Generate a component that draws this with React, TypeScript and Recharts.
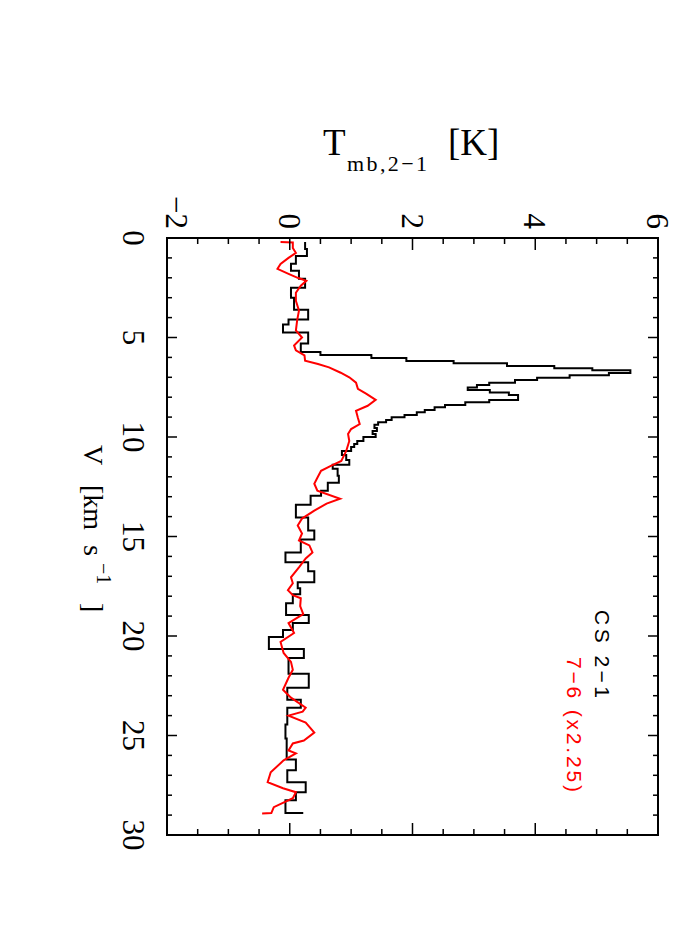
import React from "react";
import { LineChart, Line, XAxis, YAxis, ReferenceArea } from "recharts";

// velocity axis ticks (km/s) and temperature axis ticks (K)
const vTicks = [0, 1, 2, 3, 4, 5, 6, 7, 8, 9, 10, 11, 12, 13, 14, 15, 16, 17, 18, 19, 20, 21, 22, 23, 24, 25, 26, 27, 28, 29, 30];
const tTicks = [-2, -1.5, -1, -0.5, 0, 0.5, 1, 1.5, 2, 2.5, 3, 3.5, 4, 4.5, 5, 5.5, 6];

// CS 2-1 (black histogram)
const cs21V = [0.2, 0.55, 0.9, 1.3, 1.65, 2.05, 2.5, 3.0, 3.6, 4.1, 4.35, 4.75, 5.3, 5.73, 5.88, 6.03, 6.18, 6.3, 6.43, 6.55, 6.65, 6.78, 6.9, 7.02, 7.14, 7.27, 7.39, 7.51, 7.64, 7.76, 7.89, 8.14, 8.26, 8.39, 8.51, 8.64, 8.76, 8.89, 9.01, 9.14, 9.26, 9.39, 9.55, 9.7, 9.85, 10.0, 10.2, 10.35, 10.5, 10.7, 10.9, 11.15, 11.4, 11.6, 11.95, 12.3, 12.7, 12.95, 13.4, 14.05, 14.7, 15.15, 15.8, 16.3, 16.75, 17.3, 17.6, 17.9, 18.35, 18.95, 19.35, 19.7, 20.05, 20.65, 21.1, 21.9, 22.6, 23.2, 23.6, 24.45, 25.15, 26.2, 26.75, 27.35, 27.85, 28.25, 28.9];
const cs21T = [0.25, 0.28, 0.1, 0.02, 0.15, 0.25, 0.02, 0.07, 0.3, -0.02, -0.11, 0.3, 0.18, 0.5, 1.33, 1.9, 2.67, 3.54, 4.31, 4.93, 5.55, 5.2, 4.56, 4.03, 3.67, 3.25, 3.05, 2.9, 3.26, 3.57, 3.72, 3.25, 2.86, 2.53, 2.36, 2.2, 2.07, 1.87, 1.66, 1.57, 1.44, 1.38, 1.42, 1.35, 1.4, 1.2, 1.1, 1.05, 1.0, 0.85, 0.92, 0.97, 0.7, 0.78, 0.8, 0.62, 0.51, 0.34, 0.1, 0.3, 0.4, 0.18, -0.07, 0.3, 0.4, 0.13, 0.17, 0.05, -0.06, 0.31, 0.05, -0.11, -0.34, 0.23, -0.02, 0.31, -0.04, 0.18, -0.04, -0.07, -0.05, 0.1, -0.04, 0.26, 0.1, -0.07, 0.22];

// CS 7-6 scaled x2.25 (red)
const cs76V = [0.2, 0.22, 0.5, 0.75, 1.0, 1.3, 1.55, 1.8, 2.0, 2.15, 2.4, 2.75, 3.15, 3.65, 4.15, 4.65, 5.0, 5.4, 5.65, 5.9, 6.17, 6.33, 6.5, 6.77, 7.0, 7.27, 7.58, 7.83, 8.13, 8.43, 8.68, 9.03, 9.35, 9.6, 9.85, 10.2, 10.7, 11.2, 11.45, 11.7, 12.05, 12.35, 12.7, 13.1, 13.35, 13.7, 14.1, 14.45, 14.85, 15.2, 15.45, 15.8, 16.1, 16.55, 17.05, 17.35, 17.7, 17.95, 18.1, 18.5, 18.9, 19.35, 19.85, 20.3, 20.85, 21.3, 21.7, 22.1, 22.7, 23.1, 23.6, 23.8, 24.0, 24.35, 24.85, 25.25, 25.4, 25.75, 25.9, 26.25, 26.85, 27.35, 27.65, 27.85, 28.15, 28.6, 28.9, 28.92];
const cs76T = [-0.15, 0.05, 0.05, 0.1, -0.02, -0.15, -0.2, -0.02, 0.13, 0.27, 0.18, 0.1, 0.1, 0.15, 0.12, 0.1, 0.2, 0.07, 0.1, 0.24, 0.25, 0.46, 0.64, 0.83, 0.97, 1.08, 1.11, 1.25, 1.4, 1.27, 1.08, 1.11, 1.14, 1.0, 0.95, 0.97, 0.92, 0.84, 0.67, 0.51, 0.45, 0.4, 0.45, 0.82, 0.6, 0.4, 0.2, 0.13, 0.2, 0.15, 0.32, 0.37, 0.26, 0.15, 0.02, 0.05, -0.03, 0.05, 0.18, 0.17, 0.22, -0.02, 0.07, -0.15, -0.1, 0.02, 0.05, -0.02, -0.11, 0.02, 0.26, 0.21, -0.02, 0.26, 0.4, 0.23, 0.05, -0.02, 0.1, -0.1, -0.31, -0.36, -0.11, 0.1, 0.05, -0.26, -0.3, -0.45];

const cs21Data = cs21V.map((v, i) => ({ v, t: cs21T[i] }));
const cs76Data = cs76V.map((v, i) => ({ v, t: cs76T[i] }));

// chart is drawn unrotated, then turned 90deg clockwise
const W = 767;
const H = 600;
const PL = 150, PR = 747, PT = 20, PB = 511;
const TX = 678, TY = 88;
const SERIF = "'Liberation Serif', 'Times New Roman', serif";
const SANS = "'Liberation Sans', Arial, sans-serif";

function VTick(props: any) {
  const { x, payload } = props;
  const v = payload.value;
  const major = v % 5 === 0;
  const len = major ? 10 : 5;
  return (
    <g>
      <line x1={x} x2={x} y1={PB} y2={PB - len} stroke="#000" strokeWidth={1.5} />
      <line x1={x} x2={x} y1={PT} y2={PT + len} stroke="#000" strokeWidth={1.5} />
      {major && (
        <text x={x} y={555} textAnchor="middle" fontFamily={SERIF} fontSize={31} fill="#000">
          {v}
        </text>
      )}
    </g>
  );
}

function TTick(props: any) {
  const { y, payload } = props;
  const t = payload.value;
  const major = t % 2 === 0;
  const len = major ? 12 : 6;
  const shift = t === -2 ? -10 : 0;
  return (
    <g>
      <line x1={PL} x2={PL + len} y1={y} y2={y} stroke="#000" strokeWidth={1.5} />
      <line x1={PR} x2={PR - len} y1={y} y2={y} stroke="#000" strokeWidth={1.5} />
      {major && (
        <text x={141} y={y + shift} dy="0.35em" textAnchor="end" fontFamily={SERIF} fontSize={31} fill="#000">
          {t < 0 ? "\u2212" + Math.abs(t) : t}
        </text>
      )}
    </g>
  );
}

function RotText(props: any) {
  const { x, y, size, family, fill, len, children } = props;
  return (
    <text
      x={x}
      y={y}
      transform={`rotate(90 ${x} ${y})`}
      fontSize={size}
      fontFamily={family}
      fill={fill || "#000"}
      textLength={len}
      lengthAdjust={len ? "spacing" : undefined}
    >
      {children}
    </text>
  );
}

export default function App() {
  return (
    <div style={{ position: "fixed", left: 0, top: 0, width: 700, height: 950, overflow: "hidden", background: "#fff" }}>
      <div
        style={{
          position: "absolute",
          left: 0,
          top: 0,
          width: W,
          height: H,
          transformOrigin: "0 0",
          transform: `translate(${TX}px, ${TY}px) rotate(90deg)`,
        }}
      >
        <LineChart width={W} height={H} margin={{ top: PT, right: W - PR, bottom: 0, left: 0 }}>
          <XAxis
            dataKey="v"
            type="number"
            domain={[0, 30]}
            ticks={vTicks}
            interval={0}
            allowDataOverflow
            axisLine={false}
            tickLine={false}
            tick={<VTick />}
            height={H - PB}
          />
          <YAxis
            type="number"
            domain={[-2, 6]}
            ticks={tTicks}
            interval={0}
            allowDataOverflow
            axisLine={false}
            tickLine={false}
            tick={<TTick />}
            width={PL}
          />
          <ReferenceArea x1={0} x2={30} y1={-2} y2={6} fill="none" fillOpacity={0} stroke="#000" strokeWidth={2} />
          <Line data={cs21Data} dataKey="t" type="stepAfter" stroke="#000" strokeWidth={2} dot={false} isAnimationActive={false} />
          <Line data={cs76Data} dataKey="t" type="linear" stroke="#ff0000" strokeWidth={2} dot={false} isAnimationActive={false} />
        </LineChart>
      </div>
      <svg width={700} height={950} style={{ position: "absolute", left: 0, top: 0, pointerEvents: "none" }}>
        <text x={323} y={155} fontFamily={SERIF} fontSize={37} fill="#000">T</text>
        <text x={347} y={171} fontFamily={SERIF} fontSize={22} fill="#000" textLength={80} lengthAdjust="spacing">mb,2{"\u2212"}1</text>
        <text x={448} y={155} fontFamily={SERIF} fontSize={37} fill="#000">[K]</text>

        <RotText x={84} y={445} size={28} family={SERIF}>V</RotText>
        <RotText x={84} y={485} size={28} family={SERIF}>[km</RotText>
        <RotText x={84} y={545} size={28} family={SERIF}>s</RotText>
        <RotText x={97} y={563} size={20} family={SERIF}>{"\u2212"}1</RotText>
        <RotText x={84} y={603} size={28} family={SERIF}>]</RotText>

        <RotText x={595} y={610} size={21} family={SANS} len={88}>CS  2{"\u2212"}1</RotText>
        <RotText x={567} y={657} size={21} family={SANS} fill="#ff0000" len={135}>7{"\u2212"}6 (x2.25)</RotText>
      </svg>
    </div>
  );
}
